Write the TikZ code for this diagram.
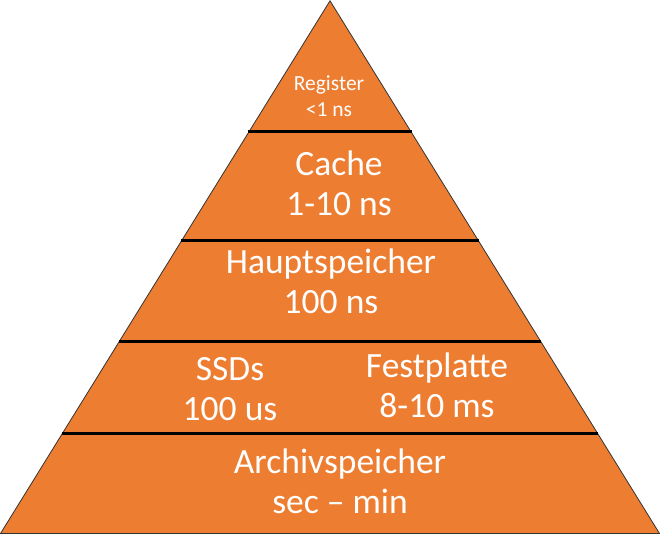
\documentclass[tikz,border=0pt]{standalone}
\usepackage{fontspec}
\setmainfont{Carlito}
\definecolor{pyr}{HTML}{ED7D31}
\begin{document}
\begin{tikzpicture}[x=1pt,y=-1pt,
  sep/.style={line width=3pt,black},
  lbl/.style={text=white,font=\fontsize{35.5}{40}\selectfont,align=center,inner sep=0pt},
  small/.style={text=white,font=\fontsize{21.5}{26}\selectfont,align=center,inner sep=0pt}]
\useasboundingbox (0,0) rectangle (660,534);
\coordinate (apex) at (330,0.8);
\coordinate (bl) at (0.5,533.5);
\coordinate (br) at (659.5,533.5);
\fill[pyr,draw=black!80,line width=0.8pt] (apex) -- (br) -- (bl) -- cycle;
\foreach \y in {132,241,341,433}{
  \draw[sep] ({330-\y/534*330-0.5},\y) -- ({330+\y/534*330+0.5},\y);
}
\node[small] (reg) at (329,96) {Register\\<1 ns};
\node[lbl] (cache) at (339,183) {Cache\\1-10 ns};
\node[lbl] (haupt) at (331,281) {Hauptspeicher\\100 ns};
\node[lbl] (ssd) at (230,389) {SSDs\\100 us};
\node[lbl] (fest) at (437,385) {Festplatte\\8-10 ms};
\node[lbl] (arch) at (340,481) {Archivspeicher\\sec – min};
\end{tikzpicture}
\end{document}
